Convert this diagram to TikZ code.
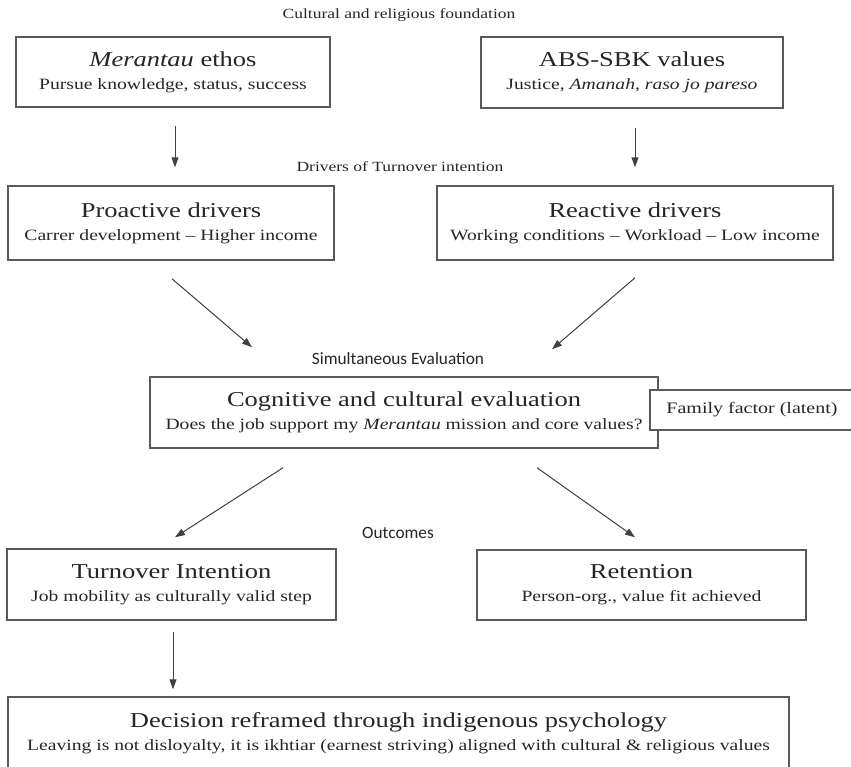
\documentclass[tikz,border=0pt]{standalone}
\usepackage{fontspec}
\setmainfont[FakeStretch=1.25]{Liberation Serif}
\newfontfamily\lblsans{Carlito}
\usetikzlibrary{arrows.meta,calc}
\definecolor{boxline}{HTML}{5A5A5A}
\definecolor{txt}{HTML}{262626}
\definecolor{arrline}{HTML}{404040}
\newcommand\boxtxt[2]{{\fontsize{21.2}{23}\selectfont #1}\\{\fontsize{15.7}{23}\selectfont #2}}
\begin{document}
\begin{tikzpicture}[x=1pt,y=-1pt,
  box/.style={draw=boxline, line width=1.5pt, fill=white, text=txt, align=center, inner sep=0pt, anchor=center, font=\fontsize{15.7}{23}\selectfont},
  lbl/.style={text=txt, inner sep=0pt, anchor=center, font=\fontsize{14}{16}\selectfont},
  slbl/.style={text=txt, inner sep=0pt, anchor=center, font=\lblsans\fontsize{17.3}{19}\selectfont},
  arr/.style={draw=arrline, line width=1pt, -{Triangle[length=10pt,width=7pt]}}
]
\useasboundingbox (0,0) rectangle (851,766);
\fill[white] (0,0) rectangle (851,766);

% section labels
\node[lbl]  (l1) at (399,15)  {Cultural and religious foundation};
\node[lbl]  (l2) at (400,167) {Drivers of Turnover intention};
\node[slbl] (l3) at (398,359) {Simultaneous Evaluation};
\node[slbl] (l4) at (398,533) {Outcomes};

% boxes
\node[box, minimum width=314pt, minimum height=70pt] (mer) at (173,72)
  {\boxtxt{\textit{Merantau} ethos}{Pursue knowledge, status, success}};
\node[box, minimum width=302pt, minimum height=71pt] (abs) at (632,72.5)
  {\boxtxt{ABS-SBK values}{Justice, \textit{Amanah}, \textit{raso jo pareso}}};
\node[box, minimum width=326pt, minimum height=74pt] (pro) at (171,223)
  {\boxtxt{Proactive drivers}{Carrer development -- Higher income}};
\node[box, minimum width=396pt, minimum height=74pt] (rea) at (635,223)
  {\boxtxt{Reactive drivers}{Working conditions -- Workload -- Low income}};
\node[box, minimum width=508pt, minimum height=71pt] (cog) at (404,412.5)
  {\boxtxt{Cognitive and cultural evaluation}{Does the job support my \textit{Merantau} mission and core values?}};
\node[box, minimum width=204pt, minimum height=40pt, font=\fontsize{16}{18}\selectfont] (fam) at (752,410)
  {Family factor (latent)};
\node[box, minimum width=329pt, minimum height=71pt] (tur) at (171.5,584.5)
  {\boxtxt{Turnover Intention}{Job mobility as culturally valid step}};
\node[box, minimum width=329pt, minimum height=70pt] (ret) at (641.5,585)
  {\boxtxt{Retention}{Person-org., value fit achieved}};
\node[box, minimum width=781pt, minimum height=80pt, text height=42pt, text depth=16pt] (dec) at (398.5,737)
  {\boxtxt{Decision reframed through indigenous psychology}{Leaving is not disloyalty, it is ikhtiar (earnest striving) aligned with cultural \& religious values}};

% connectors
\draw[arr] ([shift={(2,18)}]mer.south) -- ([shift={(2,-18)}]mer.south |- pro.north);
\draw[arr] ([shift={(3,19)}]abs.south) -- ([shift={(0,-18)}]rea.north);
\draw[arr] ([shift={(1,18)}]pro.south) -- ([shift={(-152,-29)}]cog.north);
\draw[arr] ([shift={(0,17)}]rea.south) -- ([shift={(148,-27)}]cog.north);
\draw[arr] ([shift={(-121,19)}]cog.south) -- ([shift={(3.5,-11)}]tur.north);
\draw[arr] ([shift={(133,19)}]cog.south) -- ([shift={(-6.5,-12)}]ret.north);
\draw[arr] ([shift={(1.5,11)}]tur.south) -- ([shift={(1.5,-7)}]tur.south |- dec.north);
\end{tikzpicture}
\end{document}
